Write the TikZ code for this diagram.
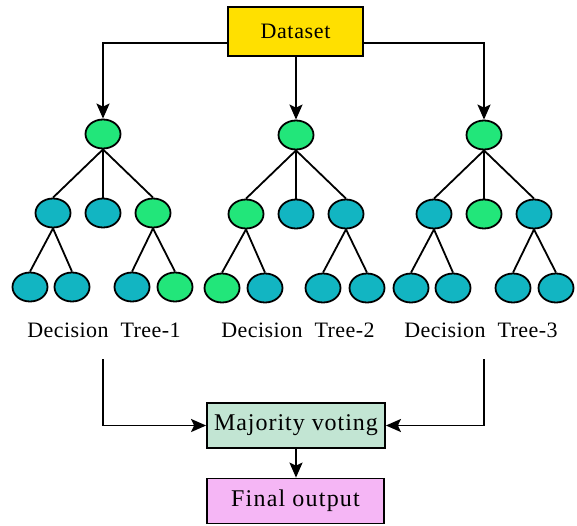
\documentclass[tikz,border=0pt]{standalone}
\usepackage{fontspec}
\setmainfont{Liberation Serif}
\usetikzlibrary{shapes.geometric,arrows.meta}
\definecolor{lgreen}{RGB}{34,230,122}
\definecolor{lteal}{RGB}{18,181,194}
\definecolor{dyellow}{RGB}{255,224,0}
\definecolor{mgreen}{RGB}{194,229,211}
\definecolor{fpink}{RGB}{245,182,245}
\tikzset{
  nd/.style={ellipse,draw=black,line width=1.8pt,minimum width=35pt,minimum height=29pt,inner sep=0pt},
  G/.style={nd,fill=lgreen},
  T/.style={nd,fill=lteal},
  edge/.style={line width=1.8pt},
  arr/.style={line width=1.8pt,-{Stealth[length=15pt,width=13pt,inset=3pt]}},
  box/.style={draw=black,line width=1.8pt,inner sep=0pt},
  lbl/.style={font=\fontsize{22}{26}\selectfont\addfontfeature{LetterSpace=2},inner sep=0pt}
}
\begin{document}
\begin{tikzpicture}[x=1pt,y=-1pt]
\useasboundingbox (0,0) rectangle (577,525);
% boxes
\node[box,fill=dyellow,minimum width=135pt,minimum height=49pt,font=\fontsize{22}{26}\selectfont\addfontfeature{LetterSpace=3}] (data) at (295.5,31.5) {Dataset};
\node[box,fill=mgreen,minimum width=178pt,minimum height=45pt,font=\fontsize{24}{28}\selectfont\addfontfeature{LetterSpace=4}] (maj) at (296,425.5) {Majority voting};
\node[box,fill=fpink,minimum width=177pt,minimum height=45pt,font=\fontsize{24}{28}\selectfont\addfontfeature{LetterSpace=5}] (fin) at (295.5,501) {Final output};
% tree 1
\node[G] (r1) at (103,134) {};
\node[T] (a1) at (53,213) {};
\node[T] (b1) at (103,213) {};
\node[G] (c1) at (153,213) {};
\node[T] (d1) at (30,287) {};
\node[T] (e1) at (72,287) {};
\node[T] (f1) at (132,287) {};
\node[G] (g1) at (175,287) {};
% tree 2
\node[G] (r2) at (296,135) {};
\node[G] (a2) at (246,214) {};
\node[T] (b2) at (296,214) {};
\node[T] (c2) at (346,214) {};
\node[G] (d2) at (222,288) {};
\node[T] (e2) at (265,288) {};
\node[T] (f2) at (323,288) {};
\node[T] (g2) at (367,288) {};
% tree 3
\node[G] (r3) at (484,135) {};
\node[T] (a3) at (434,214) {};
\node[G] (b3) at (484,214) {};
\node[T] (c3) at (534,214) {};
\node[T] (d3) at (411,288) {};
\node[T] (e3) at (453,288) {};
\node[T] (f3) at (513,288) {};
\node[T] (g3) at (556,288) {};
% edges
\foreach \t in {1,2,3}{
  \draw[edge] (r\t.south) -- (a\t.north);
  \draw[edge] (r\t.south) -- (b\t.north);
  \draw[edge] (r\t.south) -- (c\t.north);
  \draw[edge] (a\t.south) -- (d\t.north);
  \draw[edge] (a\t.south) -- (e\t.north);
  \draw[edge] (c\t.south) -- (f\t.north);
  \draw[edge] (c\t.south) -- (g\t.north);
}
% labels
\node[lbl] (l1) at (104,330) {Decision\ \ Tree-1};
\node[lbl] (l2) at (298,330) {Decision\ \ Tree-2};
\node[lbl] (l3) at (481,330) {Decision\ \ Tree-3};
% dataset arrows
\coordinate (dL) at (228,43);
\coordinate (dR) at (363,43);
\draw[arr] (dL) -| (r1.north);
\draw[arr] (dR) -| (r3.north);
\draw[arr] (data.south -| r2.north) -- (r2.north);
% to majority
\coordinate (s1) at (103,359);
\coordinate (s3) at (484,359);
\draw[arr] (s1) |- (maj.west);
\draw[arr] (s3) |- (maj.east);
\draw[arr] (maj.south -| 296,0) -- (fin.north -| 296,0);
\end{tikzpicture}
\end{document}
